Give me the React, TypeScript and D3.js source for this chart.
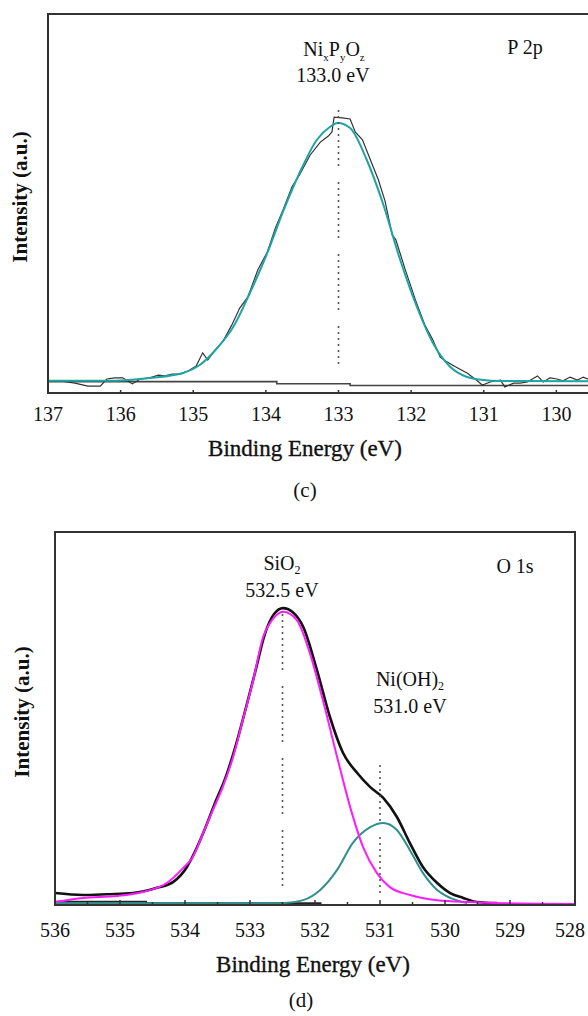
import * as d3 from "d3";

const FONT = "'Liberation Serif', 'Times New Roman', serif";

// ---- panel (c): P 2p ----
const p2pTicks = [137, 136, 135, 134, 133, 132, 131, 130, 129];
const p2pLabels = [137, 136, 135, 134, 133, 132, 131, 130];
const p2pPeakE = 133.0;

// measured spectrum (binding energy eV, intensity a.u.)
const p2pRaw: [number, number][] = [
  [137.0, 3.2], [136.83, 3.2], [136.63, 2.6], [136.45, 1.8], [136.28, 1.8], [136.19, 3.7],
  [136.08, 4.0], [135.97, 4.0], [135.84, 2.4], [135.73, 3.7], [135.6, 4.0], [135.48, 4.7],
  [135.39, 4.5], [135.29, 5.0], [135.18, 5.0], [135.07, 5.8], [134.96, 7.1], [134.87, 10.6],
  [134.8, 8.7], [134.7, 11.3], [134.59, 13.7], [134.47, 17.9], [134.36, 22.4], [134.25, 25.3],
  [134.11, 32.5], [133.98, 37.2], [133.87, 43.5], [133.76, 48.5], [133.64, 54.4], [133.53, 57.8],
  [133.39, 62.8], [133.25, 66.2], [133.14, 67.8], [133.09, 68.9], [133.06, 72.8], [132.95, 72.6],
  [132.84, 72.3], [132.77, 68.9], [132.67, 66.8], [132.56, 61.5], [132.45, 56.2], [132.36, 50.7],
  [132.26, 41.7], [132.21, 40.4], [132.08, 32.5], [131.94, 24.5], [131.81, 17.9], [131.7, 14.0],
  [131.6, 9.5], [131.52, 8.4], [131.39, 6.9], [131.23, 5.3], [131.12, 3.7], [131.02, 2.1],
  [130.91, 2.9], [130.77, 3.4], [130.71, 1.6], [130.59, 2.6], [130.5, 2.6], [130.4, 2.9],
  [130.26, 4.5], [130.18, 2.9], [130.09, 4.0], [129.99, 3.7], [129.91, 3.2], [129.81, 4.2],
  [129.71, 3.4], [129.63, 4.2], [129.53, 3.4],
];

const p2pFit: [number, number][] = [
  [137.0, 3.2], [136.2, 3.2], [135.6, 3.96], [135.14, 5.28], [134.91, 7.39], [134.67, 11.87],
  [134.45, 17.41], [134.22, 26.39], [133.98, 36.94], [133.76, 48.05], [133.53, 58.31],
  [133.3, 66.75], [133.12, 70.18], [133.01, 71.24], [132.84, 69.92], [132.61, 61.48],
  [132.39, 50.13], [132.15, 35.09], [131.92, 22.69], [131.7, 13.19], [131.46, 6.86],
  [131.23, 4.22], [131.01, 3.43], [130.77, 3.17], [129.5, 3.1],
];

const p2pBase: [number, number][] = [
  [137.0, 3.0], [133.85, 3.0], [133.85, 2.45], [132.84, 2.45], [132.84, 1.98], [129.0, 1.98],
];

// ---- panel (d): O 1s ----
const o1sTicks = [536, 535, 534, 533, 532, 531, 530, 529, 528];
const o1sMinor = [535.5, 534.5, 533.5, 532.5, 531.5, 530.5, 529.5, 528.5];
const o1sPeaks = [532.5, 531.0];

const o1sRaw: [number, number][] = [
  [536.0, 3.2], [535.57, 2.7], [535.2, 2.9], [534.8, 3.2], [534.43, 4.6], [534.18, 6.2],
  [533.97, 10.2], [533.85, 14.2], [533.69, 20.6], [533.54, 27.3], [533.38, 34.0], [533.23, 42.1],
  [533.08, 51.7], [532.92, 62.5], [532.77, 72.7], [532.63, 78.0], [532.49, 79.6], [532.35, 78.6],
  [532.18, 74.5], [531.97, 63.0], [531.77, 50.4], [531.57, 40.8], [531.35, 35.4], [531.15, 31.6],
  [530.95, 28.7], [530.74, 23.6], [530.54, 16.6], [530.34, 10.2], [530.12, 5.9], [529.92, 3.2],
  [529.72, 1.9], [529.51, 0.8], [529.2, 0.5],
];

const o1sSiO2: [number, number][] = [
  [536.0, 0.8], [535.57, 1.9], [535.05, 2.4], [534.65, 3.5], [534.28, 5.9], [534.03, 9.9],
  [533.88, 12.9], [533.72, 19.3], [533.57, 25.5], [533.42, 31.6], [533.26, 39.7], [533.11, 49.6],
  [532.95, 60.3], [532.8, 71.8], [532.66, 76.4], [532.49, 78.6], [532.28, 76.4], [532.08, 67.6],
  [531.88, 55.0], [531.66, 39.7], [531.46, 26.3], [531.26, 15.5], [531.05, 8.6], [530.85, 4.8],
  [530.54, 2.7], [530.12, 1.3], [529.62, 0.8], [529.11, 0.5], [528.0, 0.3],
];

const o1sNiOH: [number, number][] = [
  [536.0, 0.5], [532.69, 0.5], [532.49, 0.5], [532.18, 1.3], [531.92, 4.0], [531.66, 9.4],
  [531.42, 16.6], [531.15, 20.9], [530.95, 22.0], [530.74, 20.1], [530.54, 14.7], [530.34, 8.6],
  [530.12, 4.0], [529.92, 1.9], [529.66, 0.5],
];

const o1sBase: [number, number][] = [
  [536.0, 0.9], [534.6, 0.9], [534.6, 0.5], [531.9, 0.5],
];

const dotted = Array(9).fill("2 4").join(" ") + " 2 16";

export default function App() {
  // panel (c) scales
  const xc = d3.scaleLinear().domain([137, 129]).range([48, 629]);
  const yc = d3.scaleLinear().domain([0, 100]).range([393, 14]);
  // panel (d) scales
  const xd = d3.scaleLinear().domain([536, 528]).range([55, 575]);
  const yd = d3.scaleLinear().domain([0, 100]).range([905, 532]);

  const lineC = d3.line<[number, number]>().x((d) => xc(d[0])).y((d) => yc(d[1]));
  const smoothC = d3.line<[number, number]>().x((d) => xc(d[0])).y((d) => yc(d[1])).curve(d3.curveMonotoneX);
  const lineD = d3.line<[number, number]>().x((d) => xd(d[0])).y((d) => yd(d[1]));
  const smoothD = d3.line<[number, number]>().x((d) => xd(d[0])).y((d) => yd(d[1])).curve(d3.curveMonotoneX);

  const txt = { fontFamily: FONT, fill: "#111" };

  return (
    <div style={{ position: "absolute", left: 0, top: 0 }}>
      <svg width={588} height={1016} style={{ display: "block", background: "#fff" }}>
        {/* ===== (c) P 2p ===== */}
        <g>
          <path d={lineC(p2pBase) || ""} fill="none" stroke="#444" strokeWidth={1.6} />
          <path d={lineC(p2pRaw) || ""} fill="none" stroke="#333" strokeWidth={1.2} />
          <path d={smoothC(p2pFit) || ""} fill="none" stroke="#1fa3a3" strokeWidth={2} />
          <line
            x1={xc(p2pPeakE)} x2={xc(p2pPeakE)} y1={110} y2={364}
            stroke="#555" strokeWidth={1.6} strokeDasharray={dotted}
          />
          {/* frame */}
          <path
            d={`M${xc(129)},${yc(100)} L${xc(137)},${yc(100)} L${xc(137)},${yc(0)} L${xc(129)},${yc(0)}`}
            fill="none" stroke="#333" strokeWidth={2}
          />
          {p2pTicks.map((t) => (
            <line key={t} x1={xc(t)} x2={xc(t)} y1={yc(0)} y2={yc(0) - 3} stroke="#333" strokeWidth={1.5} />
          ))}
          {p2pLabels.map((t) => (
            <text key={t} x={xc(t)} y={421} textAnchor="middle" fontSize={20} {...txt}>{t}</text>
          ))}
          <text x={334} y={56} textAnchor="middle" fontSize={20} {...txt}>
            Ni<tspan dy={5} fontSize={11}>x</tspan>
            <tspan dy={-5}>P</tspan><tspan dy={5} fontSize={11}>y</tspan>
            <tspan dy={-5}>O</tspan><tspan dy={5} fontSize={11}>z</tspan>
          </text>
          <text x={333} y={82} textAnchor="middle" fontSize={20} {...txt}>133.0 eV</text>
          <text x={525} y={54} textAnchor="middle" fontSize={20} {...txt}>P 2p</text>
          <text x={305} y={456} textAnchor="middle" fontSize={23} {...txt} stroke="#111" strokeWidth={0.35}>
            Binding Energy (eV)
          </text>
          <text
            transform="translate(27,197) rotate(-90)" textAnchor="middle" fontSize={21}
            fontWeight="bold" {...txt}
          >
            Intensity (a.u.)
          </text>
          <text x={305} y={497} textAnchor="middle" fontSize={21} {...txt}>(c)</text>
        </g>

        {/* ===== (d) O 1s ===== */}
        <g>
          <path d={lineD(o1sBase) || ""} fill="none" stroke="#222" strokeWidth={2} />
          <path d={smoothD(o1sNiOH) || ""} fill="none" stroke="#2f8f8c" strokeWidth={2} />
          <path d={smoothD(o1sRaw) || ""} fill="none" stroke="#111" strokeWidth={2.6} />
          <path d={smoothD(o1sSiO2) || ""} fill="none" stroke="#ff1aff" strokeWidth={2} />
          {o1sPeaks.map((p, i) => (
            <line
              key={p} x1={xd(p)} x2={xd(p)} y1={i === 0 ? 614 : 765} y2={903}
              stroke="#555" strokeWidth={1.6} strokeDasharray={dotted}
            />
          ))}
          <rect x={xd(536)} y={yd(100)} width={xd(528) - xd(536)} height={yd(0) - yd(100)}
            fill="none" stroke="#333" strokeWidth={2} />
          {o1sMinor.map((t) => (
            <line key={t} x1={xd(t)} x2={xd(t)} y1={yd(0)} y2={yd(0) - 3} stroke="#333" strokeWidth={1.5} />
          ))}
          {o1sTicks.map((t) => (
            <g key={t}>
              <line x1={xd(t)} x2={xd(t)} y1={yd(0)} y2={yd(0) - 5} stroke="#333" strokeWidth={1.5} />
              <text x={Math.min(xd(t), 570)} y={937} textAnchor="middle" fontSize={20} {...txt}>{t}</text>
            </g>
          ))}
          <text x={282} y={570} textAnchor="middle" fontSize={20} {...txt}>
            SiO<tspan dy={4} fontSize={12}>2</tspan>
          </text>
          <text x={282} y={597} textAnchor="middle" fontSize={20} {...txt}>532.5 eV</text>
          <text x={410} y={686} textAnchor="middle" fontSize={20} {...txt}>
            Ni(OH)<tspan dy={4} fontSize={12}>2</tspan>
          </text>
          <text x={410} y={713} textAnchor="middle" fontSize={20} {...txt}>531.0 eV</text>
          <text x={515} y={573} textAnchor="middle" fontSize={20} {...txt}>O 1s</text>
          <text x={313} y={972} textAnchor="middle" fontSize={23} {...txt} stroke="#111" strokeWidth={0.35}>
            Binding Energy (eV)
          </text>
          <text
            transform="translate(29,712) rotate(-90)" textAnchor="middle" fontSize={21}
            fontWeight="bold" {...txt}
          >
            Intensity (a.u.)
          </text>
          <text x={301} y={1007} textAnchor="middle" fontSize={21} {...txt}>(d)</text>
        </g>
      </svg>
    </div>
  );
}
